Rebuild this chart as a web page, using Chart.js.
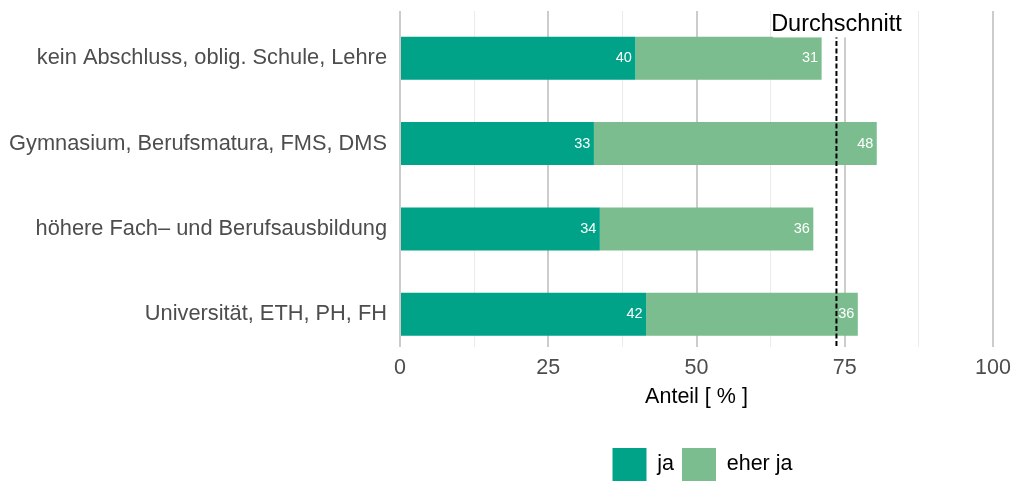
<!DOCTYPE html>
<html lang="de">
<head>
<meta charset="utf-8">
<title>Anteil nach Bildungsabschluss</title>
<script src="https://cdn.jsdelivr.net/npm/chart.js@4/dist/chart.umd.min.js"></script>
<style>
  html, body { margin: 0; padding: 0; background: #ffffff; }
  #wrap { width: 1015px; height: 481px; position: relative; }
</style>
</head>
<body>
<div id="wrap"><canvas id="chart"></canvas></div>
<script>
// Education groups, top to bottom
const categories = [
  'kein Abschluss, oblig. Schule, Lehre',
  'Gymnasium, Berufsmatura, FMS, DMS',
  'höhere Fach\u2013 und Berufsausbildung',
  'Universität, ETH, PH, FH'
];
// Shares in percent
const jaValues = [39.7, 32.7, 33.7, 41.5];
const eherJaValues = [31.4, 47.7, 36.0, 35.7];
// Overall average (ja + eher ja)
const averageValue = 73.6;
const averageLabel = 'Durchschnitt';
// Axis
const xTickValues = [0, 25, 50, 75, 100];
const xTitle = 'Anteil [ % ]';
const seriesNames = ['ja', 'eher ja'];

const FONT = '"Liberation Sans", Arial, Helvetica, sans-serif';
const COLOR_JA = '#00a388';
const COLOR_EHER = '#7bbd8e';

const positions = categories.map((_, i) => i + 1);
const toPoints = vals => vals.map((v, i) => ({ x: v, y: positions[i] }));

// Value labels inside each segment, the average marker and its caption
const overlayPlugin = {
  id: 'overlay',
  afterDatasetsDraw(chart) {
    const { ctx, chartArea, scales: { x, y } } = chart;
    ctx.save();
    ctx.font = '14.5px ' + FONT;
    ctx.fillStyle = '#ffffff';
    ctx.textAlign = 'right';
    ctx.textBaseline = 'middle';
    chart.data.datasets.forEach((ds, di) => {
      chart.getDatasetMeta(di).data.forEach((bar, i) => {
        ctx.fillText(String(Math.round(ds.data[i].x)), bar.x - 3.5, bar.y);
      });
    });

    // dashed average line
    const ax = x.getPixelForValue(averageValue);
    ctx.strokeStyle = '#000000';
    ctx.lineWidth = 2;
    ctx.setLineDash([5, 2.5]);
    ctx.beginPath();
    ctx.moveTo(ax, chartArea.top);
    ctx.lineTo(ax, chartArea.bottom);
    ctx.stroke();
    ctx.setLineDash([]);

    // caption on a white backing
    ctx.font = '23.5px ' + FONT;
    const w = ctx.measureText(averageLabel).width;
    const ty = y.getPixelForValue(0.6);
    const boxBottom = y.getPixelForValue(0.755);
    ctx.fillStyle = '#ffffff';
    ctx.fillRect(ax - w / 2 + 2, chartArea.top - 2, w - 4, boxBottom - chartArea.top + 2);
    ctx.fillStyle = '#000000';
    ctx.textAlign = 'center';
    ctx.textBaseline = 'middle';
    ctx.fillText(averageLabel, ax, ty);
    ctx.restore();
  }
};

// Legend sits under the panel, to the right of centre
const legendPlacePlugin = {
  id: 'legendPlace',
  afterLayout(chart) {
    const lg = chart.legend;
    if (!lg) return;
    const pad = lg.options.labels.padding;
    const dx = 206;
    const dy = 448 - (lg.top + pad);
    lg.left += dx; lg.right += dx;
    lg.top += dy; lg.bottom += dy;
  }
};

new Chart(document.getElementById('chart'), {
  type: 'bar',
  data: {
    datasets: [
      { label: seriesNames[0], data: toPoints(jaValues), backgroundColor: COLOR_JA, borderWidth: 0 },
      { label: seriesNames[1], data: toPoints(eherJaValues), backgroundColor: COLOR_EHER, borderWidth: 0 }
    ]
  },
  options: {
    indexAxis: 'y',
    responsive: true,
    maintainAspectRatio: false,
    animation: false,
    categoryPercentage: 1,
    barPercentage: 0.504,
    layout: { padding: { top: 11, right: 22, left: 0, bottom: 0 } },
    scales: {
      x: {
        type: 'linear',
        stacked: true,
        min: 0,
        max: 100,
        border: { display: false },
        grid: {
          drawTicks: false,
          color: c => (xTickValues.includes(c.tick.value) ? '#cccccc' : '#ebebeb'),
          lineWidth: c => (xTickValues.includes(c.tick.value) ? 2 : 1)
        },
        ticks: {
          stepSize: 12.5,
          autoSkip: false,
          maxRotation: 0,
          padding: 8,
          color: '#4d4d4d',
          font: { family: FONT, size: 21.5 },
          callback: v => (xTickValues.includes(v) ? String(v) : '')
        },
        title: {
          display: true,
          text: xTitle,
          color: '#000000',
          font: { family: FONT, size: 21.5 },
          padding: { top: 0, bottom: 20 }
        },
        afterFit: s => {
          s.height = s.chart.height - 347 - (s.chart.legend ? s.chart.legend.height : 0);
          s.paddingLeft = 0;
          s.paddingRight = 0;
        }
      },
      y: {
        type: 'linear',
        stacked: true,
        reverse: true,
        offset: false,
        min: 0.445,
        max: 4.385,
        border: { display: false },
        grid: { display: false, drawTicks: false, offset: false },
        afterBuildTicks: s => { s.ticks = positions.map(v => ({ value: v })); },
        ticks: {
          autoSkip: false,
          padding: 13,
          color: '#4d4d4d',
          font: { family: FONT, size: 21.8 },
          callback: v => categories[Math.round(v) - 1] || ''
        },
        afterFit: s => {
          s.width = 400;
          s.paddingTop = 0;
          s.paddingBottom = 0;
        }
      }
    },
    plugins: {
      legend: {
        position: 'bottom',
        align: 'center',
        labels: {
          boxWidth: 34,
          boxHeight: 33,
          padding: 8,
          color: '#000000',
          font: { family: FONT, size: 21.5 }
        }
      },
      tooltip: { enabled: false }
    }
  },
  plugins: [overlayPlugin, legendPlacePlugin]
});
</script>
</body>
</html>
